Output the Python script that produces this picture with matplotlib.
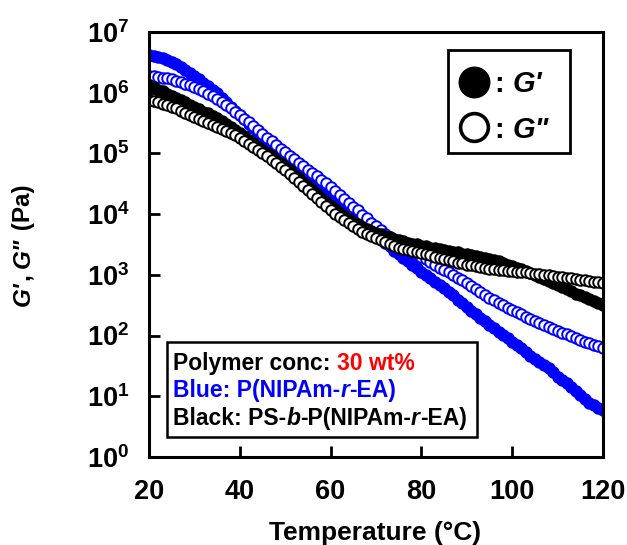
#Temperature sweep of G' and G'' for the two polymers (30 wt%)
import numpy as np
import matplotlib.pyplot as plt
from matplotlib.patches import Rectangle
from matplotlib.ticker import FixedLocator, FuncFormatter, NullLocator

plt.rcParams['font.family'] = ['Liberation Sans', 'DejaVu Sans']
plt.rcParams['font.weight'] = 'bold'
plt.rcParams['mathtext.fontset'] = 'custom'
plt.rcParams['mathtext.rm'] = 'Liberation Sans:bold'
plt.rcParams['mathtext.bf'] = 'Liberation Sans:bold'
plt.rcParams['mathtext.it'] = 'Liberation Sans:bold:italic'
plt.rcParams['mathtext.default'] = 'rm'

# temperature (C), one point per degree
temp = list(range(20, 121))

# log10 of modulus (Pa)
# blue = P(NIPAm-r-EA)
log_gp_blue = [6.62, 6.61, 6.59, 6.57, 6.54, 6.50, 6.47, 6.43, 6.38, 6.33,
               6.27, 6.22, 6.16, 6.11, 6.05, 5.99, 5.92, 5.85, 5.77, 5.70,
               5.63, 5.56, 5.49, 5.42, 5.34, 5.27, 5.20, 5.13, 5.07, 5.00,
               4.93, 4.86, 4.79, 4.72, 4.66, 4.59, 4.53, 4.46, 4.40, 4.34,
               4.28, 4.22, 4.16, 4.11, 4.05, 3.99, 3.92, 3.86, 3.79, 3.72,
               3.66, 3.59, 3.53, 3.47, 3.40, 3.34, 3.28, 3.22, 3.17, 3.11,
               3.05, 3.00, 2.94, 2.89, 2.83, 2.78, 2.72, 2.66, 2.59, 2.53,
               2.47, 2.41, 2.35, 2.29, 2.24, 2.18, 2.12, 2.06, 2.01, 1.96,
               1.90, 1.85, 1.79, 1.73, 1.67, 1.62, 1.57, 1.51, 1.47, 1.40,
               1.32, 1.27, 1.22, 1.15, 1.08, 1.02, 0.96, 0.89, 0.86, 0.80,
               0.77]
log_gpp_blue = [6.27, 6.27, 6.26, 6.25, 6.24, 6.22, 6.20, 6.17, 6.15, 6.12,
                6.09, 6.06, 6.02, 5.98, 5.94, 5.90, 5.85, 5.80, 5.74, 5.69,
                5.63, 5.57, 5.51, 5.45, 5.38, 5.32, 5.26, 5.20, 5.14, 5.08,
                5.02, 4.96, 4.90, 4.85, 4.79, 4.73, 4.67, 4.62, 4.56, 4.51,
                4.45, 4.38, 4.32, 4.25, 4.19, 4.12, 4.06, 3.99, 3.93, 3.86,
                3.80, 3.74, 3.68, 3.62, 3.56, 3.50, 3.46, 3.42, 3.38, 3.34,
                3.30, 3.26, 3.21, 3.17, 3.12, 3.08, 3.04, 2.99, 2.95, 2.91,
                2.87, 2.82, 2.77, 2.72, 2.67, 2.62, 2.58, 2.54, 2.50, 2.46,
                2.42, 2.38, 2.35, 2.31, 2.28, 2.24, 2.21, 2.18, 2.14, 2.11,
                2.08, 2.05, 2.02, 1.99, 1.96, 1.93, 1.90, 1.88, 1.85, 1.83,
                1.80]
# black = PS-b-P(NIPAm-r-EA)
log_gp_black = [6.12, 6.09, 6.05, 6.02, 5.98, 5.95, 5.92, 5.88, 5.84, 5.80,
                5.76, 5.73, 5.69, 5.66, 5.62, 5.58, 5.53, 5.48, 5.43, 5.38,
                5.33, 5.28, 5.22, 5.17, 5.11, 5.06, 5.00, 4.95, 4.89, 4.84,
                4.78, 4.72, 4.65, 4.59, 4.52, 4.46, 4.39, 4.33, 4.26, 4.20,
                4.13, 4.08, 4.02, 3.97, 3.92, 3.87, 3.83, 3.79, 3.76, 3.72,
                3.69, 3.67, 3.64, 3.62, 3.59, 3.57, 3.55, 3.53, 3.51, 3.50,
                3.48, 3.47, 3.45, 3.44, 3.42, 3.41, 3.40, 3.38, 3.37, 3.35,
                3.34, 3.32, 3.31, 3.29, 3.28, 3.26, 3.24, 3.22, 3.20, 3.17,
                3.15, 3.12, 3.09, 3.06, 3.03, 3.00, 2.97, 2.93, 2.90, 2.86,
                2.83, 2.80, 2.76, 2.73, 2.69, 2.66, 2.63, 2.60, 2.57, 2.53,
                2.51]
log_gpp_black = [5.88, 5.86, 5.84, 5.82, 5.80, 5.77, 5.74, 5.70, 5.67, 5.63,
                 5.60, 5.57, 5.54, 5.50, 5.47, 5.44, 5.40, 5.37, 5.33, 5.30,
                 5.26, 5.21, 5.16, 5.10, 5.05, 5.00, 4.95, 4.89, 4.84, 4.78,
                 4.72, 4.66, 4.60, 4.53, 4.47, 4.40, 4.33, 4.27, 4.20, 4.14,
                 4.07, 4.01, 3.96, 3.90, 3.85, 3.80, 3.76, 3.71, 3.67, 3.64,
                 3.60, 3.57, 3.54, 3.51, 3.48, 3.45, 3.43, 3.41, 3.39, 3.37,
                 3.36, 3.34, 3.32, 3.30, 3.28, 3.26, 3.24, 3.22, 3.20, 3.19,
                 3.17, 3.16, 3.14, 3.13, 3.11, 3.10, 3.09, 3.08, 3.08, 3.07,
                 3.06, 3.05, 3.04, 3.04, 3.03, 3.02, 3.01, 3.00, 2.99, 2.98,
                 2.97, 2.96, 2.95, 2.94, 2.93, 2.92, 2.91, 2.90, 2.89, 2.88,
                 2.87]

x_ticks = [20, 40, 60, 80, 100, 120]
y_decades = [0, 1, 2, 3, 4, 5, 6, 7]

BLUE = '#0000ff'
RED = '#ff0000'


def rich_text(ax, x, y, parts, size, vertical=False):
    # draw a run of differently styled pieces, one after another
    fig = ax.figure
    r = fig.canvas.get_renderer()
    px, py = ax.transAxes.transform((x, y))
    for s, color, style in parts:
        t = ax.text(px, py, s, transform=None, color=color, fontsize=size,
                    fontstyle=style, fontweight='bold', ha='left', va='baseline',
                    rotation=90 if vertical else 0, rotation_mode='anchor',
                    clip_on=False)
        bb = t.get_window_extent(renderer=r)
        if vertical:
            py = bb.y1
        else:
            px = bb.x1


fig = plt.figure(figsize=(6.27, 5.45), dpi=100)
ax = fig.add_axes([0.2376, 0.1615, 0.7241, 0.7798])

ms = 7.6
ax.plot(temp, 10 ** np.array(log_gp_blue), 'o', ms=ms, mfc=BLUE, mec=BLUE, mew=1.4)
ax.plot(temp, 10 ** np.array(log_gpp_blue), 'o', ms=ms, mfc='white', mec=BLUE, mew=1.4)
ax.plot(temp, 10 ** np.array(log_gp_black), 'o', ms=ms, mfc='black', mec='black', mew=1.4)
ax.plot(temp, 10 ** np.array(log_gpp_black), 'o', ms=ms, mfc='white', mec='black', mew=1.4)

ax.set_yscale('log')
ax.set_xlim(20, 120)
ax.set_ylim(1, 1e7)
ax.set_xticks(x_ticks)
ax.yaxis.set_major_locator(FixedLocator([10.0 ** d for d in y_decades]))
ax.yaxis.set_minor_locator(NullLocator())
ax.yaxis.set_major_formatter(FuncFormatter(lambda v, p: r'$10^{%d}$' % round(np.log10(v))))
ax.tick_params(direction='in', length=8, width=2, labelsize=19.5)
ax.tick_params(axis='x', pad=16)
ax.tick_params(axis='y', pad=14)
for sp in ax.spines.values():
    sp.set_linewidth(2.2)

ax.set_xlabel('Temperature (\u00b0C)', fontsize=19, fontweight='bold')
ax.xaxis.set_label_coords(0.498, -0.150)

fig.canvas.draw()

# y label with italic G
rich_text(ax, -0.262, 0.355,
          [("G'", 'black', 'italic'), (', ', 'black', 'normal'),
           ('G"', 'black', 'italic'), (' (Pa)', 'black', 'normal')],
          17.5, vertical=True)

# legend box, top right
ax.add_patch(Rectangle((0.658, 0.715), 0.269, 0.243, transform=ax.transAxes,
                       fill=False, ec='black', lw=2.0, clip_on=False))
ax.plot([0.716], [0.882], 'o', ms=22, mfc='black', mec='black',
        transform=ax.transAxes, clip_on=False)
ax.plot([0.716], [0.776], 'o', ms=20, mfc='white', mec='black', mew=2.6,
        transform=ax.transAxes, clip_on=False)
rich_text(ax, 0.762, 0.859, [(': ', 'black', 'normal'), ("G'", 'black', 'italic')], 21)
rich_text(ax, 0.762, 0.750, [(': ', 'black', 'normal'), ('G"', 'black', 'italic')], 21)

# info box, bottom left
ax.add_patch(Rectangle((0.0396, 0.047), 0.683, 0.224, transform=ax.transAxes,
                       fill=False, ec='black', lw=1.8, clip_on=False))
rich_text(ax, 0.053, 0.205, [('Polymer conc: ', 'black', 'normal'), ('30 wt%', RED, 'normal')], 16.5)
rich_text(ax, 0.053, 0.140, [('Blue: P(NIPAm-', BLUE, 'normal'), ('r', BLUE, 'italic'),
                             ('-EA)', BLUE, 'normal')], 16.5)
rich_text(ax, 0.053, 0.075, [('Black: PS-', 'black', 'normal'), ('b', 'black', 'italic'),
                             ('-P(NIPAm-', 'black', 'normal'), ('r', 'black', 'italic'),
                             ('-EA)', 'black', 'normal')], 16.5)

fig.savefig('out.png', dpi=100)
